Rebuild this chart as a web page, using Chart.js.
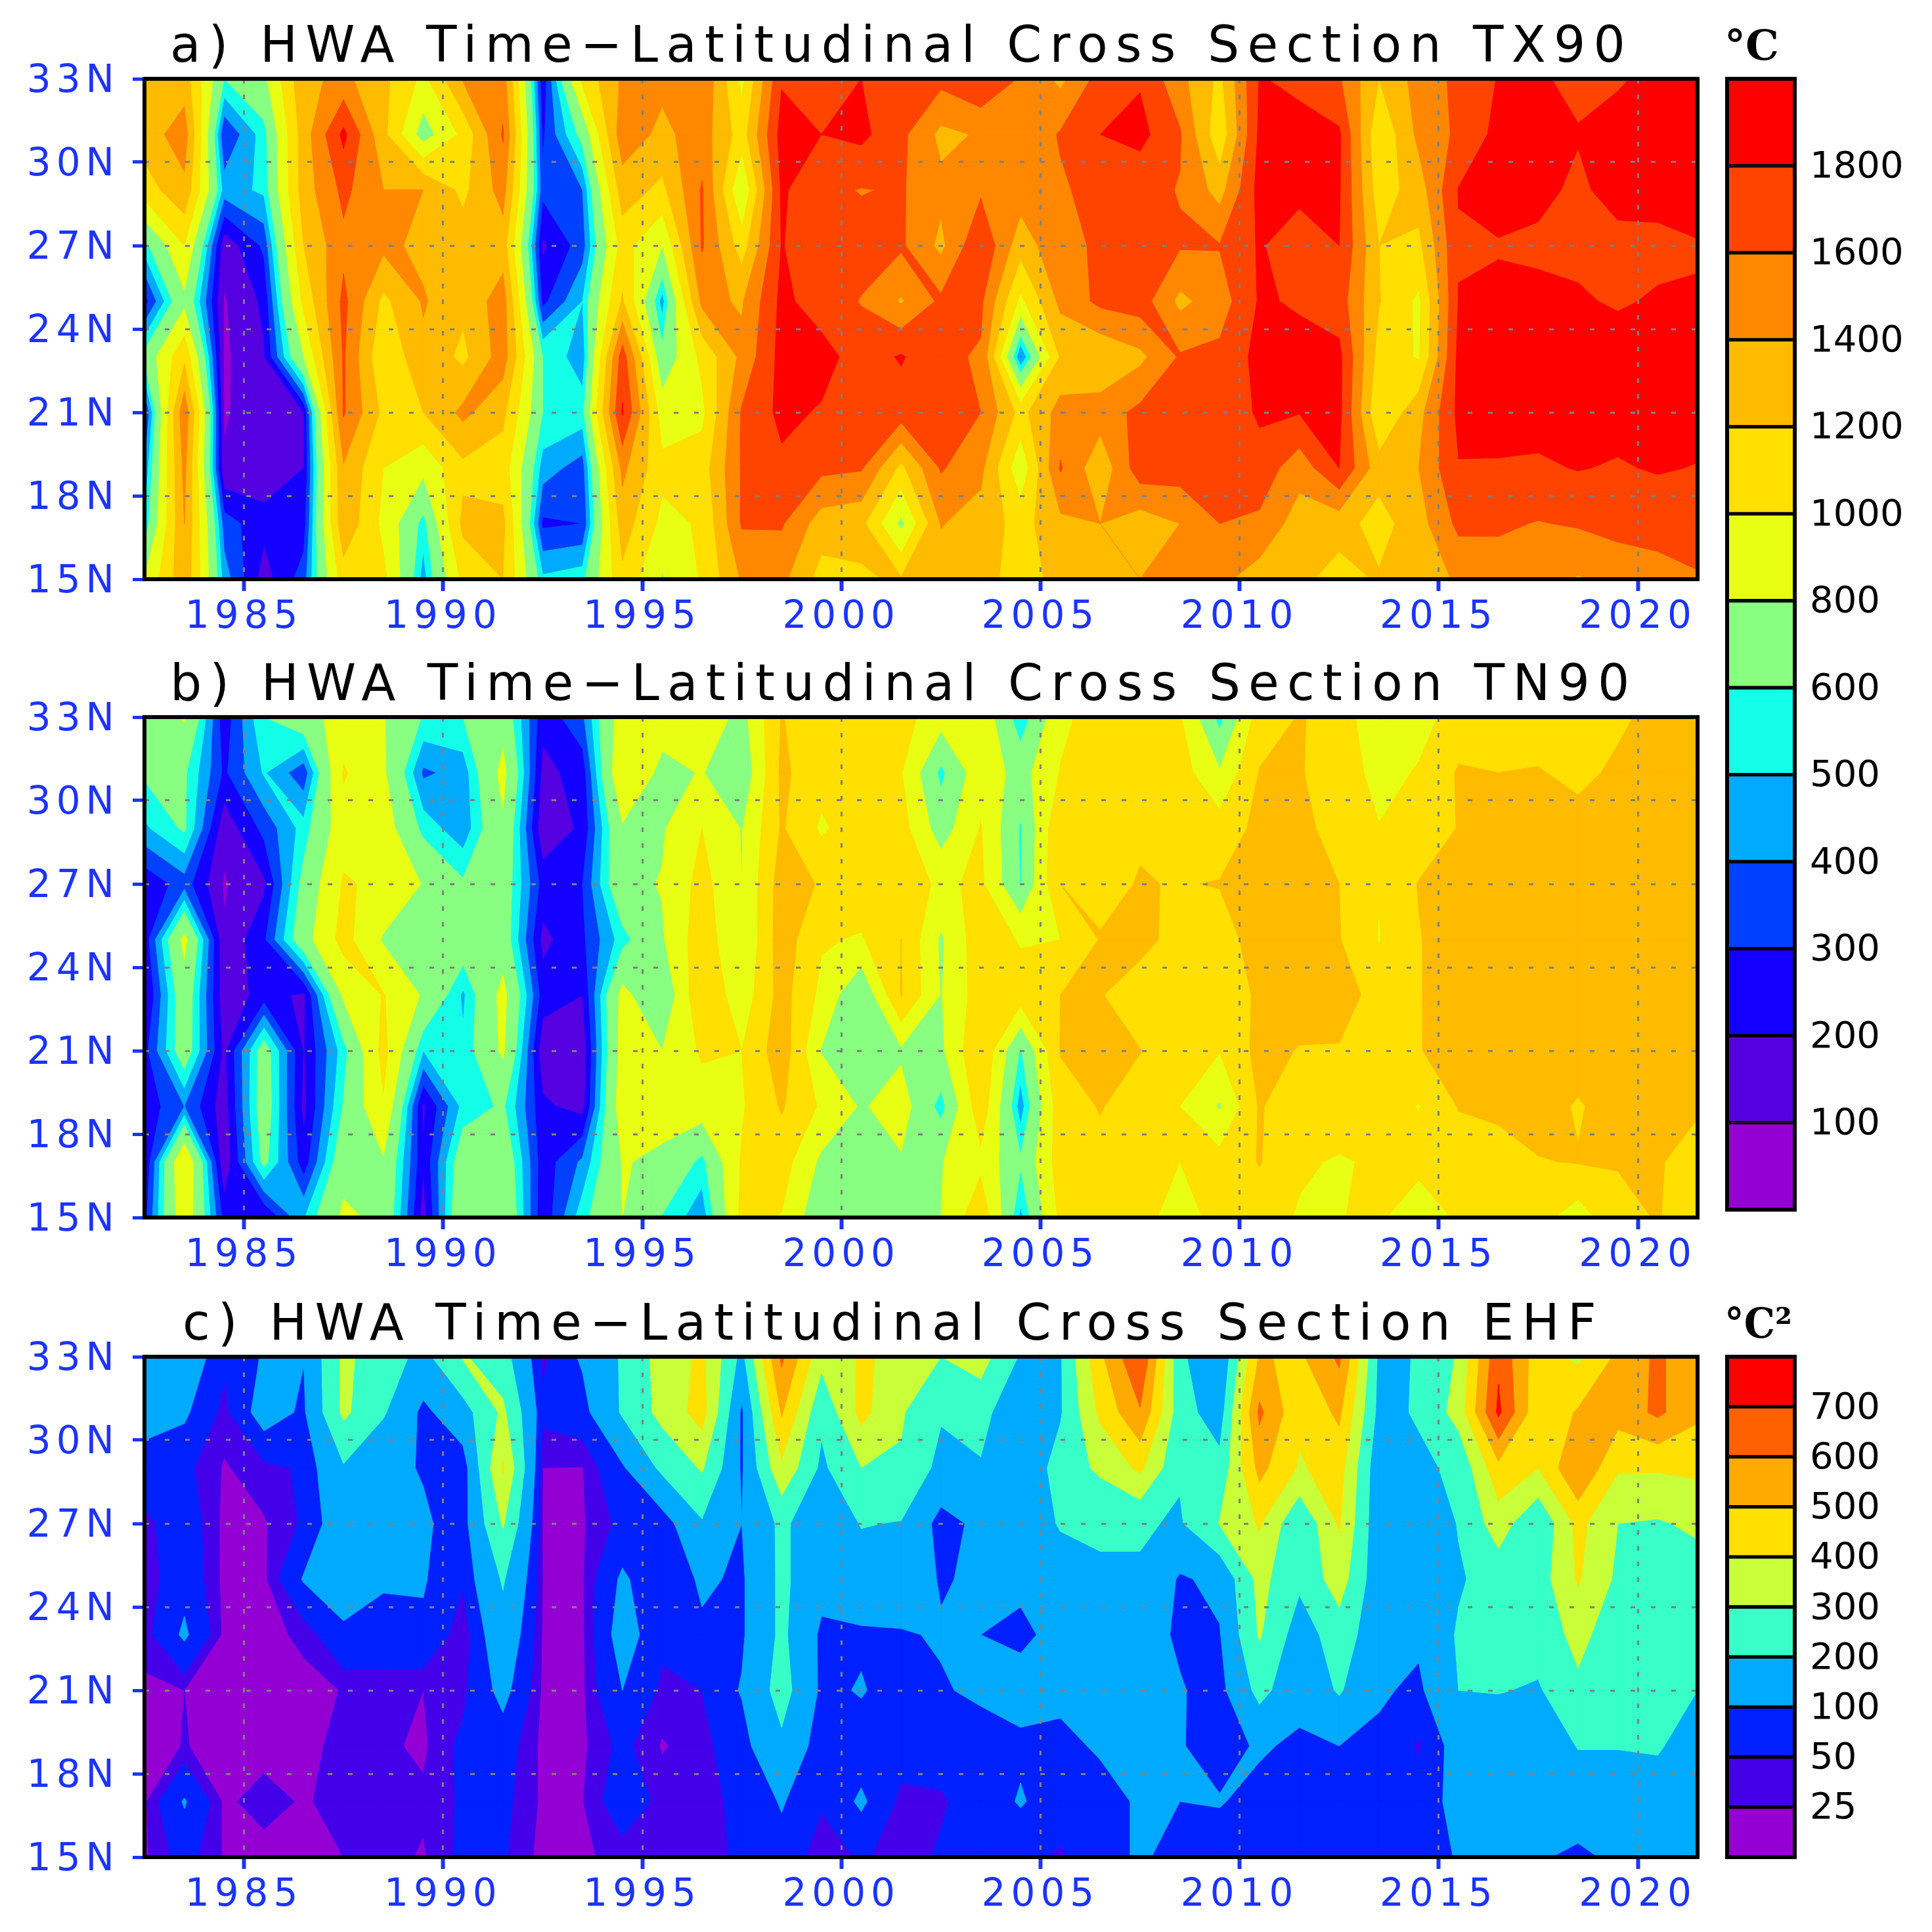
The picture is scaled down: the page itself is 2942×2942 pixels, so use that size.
<!DOCTYPE html>
<html>
<head>
<meta charset="utf-8">
<title>HWA cross sections</title>
<script src="https://cdn.jsdelivr.net/npm/chart.js@4"></script>
<style>
html, body { margin: 0; padding: 0; background: #fff; }
#page { position: relative; width: 2942px; height: 2942px; background: #fff; overflow: hidden; }
canvas { position: absolute; }
</style>
</head>
<body>
<div id="page"></div>
<script>
var years = [1982.5,1983.5,1984.5,1985.5,1986.5,1987.5,1988.5,1989.5,1990.5,1991.5,1992.5,1993.5,1994.5,1995.5,1996.5,1997.5,1998.5,1999.5,2000.5,2001.5,2002.5,2003.5,2004.5,2005.5,2006.5,2007.5,2008.5,2009.5,2010.5,2011.5,2012.5,2013.5,2014.5,2015.5,2016.5,2017.5,2018.5,2019.5,2020.5,2021.5];
var lats = [33,31,29,27,25,23,21,19,17,15];
var yearTicks = [1985,1990,1995,2000,2005,2010,2015,2020];
var latTicks = [15,18,21,24,27,30,33];
var latLabels = ['15N','18N','21N','24N','27N','30N','33N'];

var levelsT = [100,200,300,400,500,600,800,1000,1200,1400,1600,1800];
var levelsE = [25,50,100,200,300,400,500,600,700];
var colorsT = ['#9400d3','#5500e0','#1400ff','#0040ff','#00aaff','#14ffe8','#88ff80','#e8ff14','#ffe000','#ffbb00','#ff8800','#ff4400','#ff0000'];
var colorsE = ['#9400d3','#4400e8','#0020ff','#00aaff','#38ffc8','#c8ff38','#ffe000','#ffaa00','#ff6000','#ff0000'];

// one row per year, latitudes 33N down to 15N
var tx90 = [
[1250,1300,1100,550,250,650,250,400,500,800],
[1300,1500,1350,1000,750,1150,1550,1450,1400,1350],
[600,300,450,130,90,80,90,110,350,450],
[750,550,520,320,220,190,150,150,230,150],
[1350,1300,1300,1200,1050,800,200,200,250,350],
[1450,1850,1650,1550,1650,1620,1620,1380,1350,1100],
[1250,1250,1400,1450,1150,1020,1150,1000,950,1050],
[950,700,1400,1350,1420,1350,1200,850,550,450],
[1420,1050,1150,1300,1250,1150,1450,1150,1250,1050],
[1500,1620,1480,1300,1500,1500,1250,1100,1250,1200],
[220,280,330,180,270,600,600,450,280,520],
[1050,650,400,350,500,430,560,350,300,560],
[1430,1520,1300,1080,1220,1700,1820,1450,1300,1150],
[1450,1350,1150,800,450,650,900,1050,950,780],
[1580,1500,1620,1620,1450,1050,950,1100,1020,1020],
[950,1100,800,1100,1380,1450,1620,1620,1620,1420],
[1780,1880,1830,1810,1850,1870,1850,1760,1620,1450],
[1760,1800,1650,1650,1700,1880,1780,1650,1300,1120],
[1800,1850,1590,1680,1590,1700,1720,1620,1250,1180],
[1720,1650,1620,1630,1380,1820,1700,1150,750,1220],
[1660,1350,1450,1350,1640,1640,1610,1620,1410,1300],
[1790,1420,1570,1780,1640,1580,1600,1450,1320,1260],
[1580,1420,1500,1280,950,380,1130,850,1120,1130],
[1350,1620,1570,1560,1450,1220,1480,1620,1350,1250],
[1680,1800,1680,1620,1650,1220,1500,1250,1400,1350],
[1780,1860,1660,1620,1700,1350,1650,1720,1290,1400],
[1460,1620,1590,1620,1350,1620,1620,1700,1400,1420],
[1150,1050,1320,1610,1500,1650,1650,1700,1600,1450],
[1810,1840,1870,1820,1820,1860,1830,1720,1560,1300],
[1760,1860,1860,1680,1780,1860,1810,1480,1300,1250],
[1620,1830,1820,1800,1700,1850,1850,1800,1280,1120],
[1200,1020,1090,1200,1210,1120,1010,1280,1120,1220],
[1480,1450,1300,1150,960,980,1330,1400,1320,1280],
[1650,1640,1810,1780,1810,1850,1850,1790,1650,1430],
[1810,1860,1860,1790,1830,1880,1890,1780,1630,1500],
[1820,1870,1840,1770,1840,1880,1880,1770,1590,1530],
[1760,1810,1770,1760,1820,1880,1860,1810,1620,1380],
[1780,1870,1860,1750,1780,1890,1880,1780,1650,1500],
[1850,1880,1870,1750,1820,1900,1890,1820,1650,1550],
[1850,1880,1870,1790,1810,1900,1890,1790,1700,1580]
];

var tn90 = [
[650,620,480,220,230,170,260,230,190,260],
[820,620,620,350,850,720,700,400,1000,950],
[230,280,130,90,110,130,170,140,110,260],
[600,510,330,180,280,240,680,700,640,190],
[720,330,540,650,720,180,190,170,240,490],
[880,1020,920,1020,1070,830,550,610,720,840],
[810,830,900,960,780,1010,1060,980,780,750],
[590,380,560,790,720,780,500,180,210,150],
[600,440,430,620,700,480,520,530,710,780],
[720,860,770,700,700,860,830,620,740,800],
[230,170,120,260,170,250,130,220,240,220],
[380,240,220,300,280,200,130,160,420,560],
[900,990,780,750,550,860,880,920,810,800],
[880,750,780,810,780,620,800,860,770,590],
[950,810,1000,1070,1120,1180,1030,900,560,430],
[730,640,790,800,800,880,1000,980,1020,1050],
[1210,1240,1220,1300,1310,1280,1320,1220,1090,990],
[1060,1070,970,1180,1020,950,790,970,760,640],
[1080,1100,1120,1130,980,610,760,780,770,740],
[1080,1010,1080,1120,1200,1210,770,890,780,770],
[880,560,700,960,770,790,760,540,790,800],
[950,930,1010,1040,1130,1100,1190,1130,950,1150],
[500,720,580,590,980,1100,580,440,620,470],
[950,1010,1180,1200,1000,1200,1210,1120,1100,1050],
[1100,1120,1140,1150,1210,1210,1210,1210,1150,1100],
[1100,1150,1180,1210,1260,1100,1205,1120,1150,1080],
[1020,1090,1150,1190,1130,1120,1110,1000,1000,900],
[540,820,1090,1210,1100,1010,1010,780,1080,1080],
[1100,1210,1250,1300,1300,1250,1260,1220,1210,1100],
[1210,1210,1250,1260,1280,1290,1190,1050,1030,980],
[1150,1130,1130,1200,1210,1260,1190,1120,980,990],
[790,920,1010,1010,990,1150,1190,1100,1030,1050],
[920,1020,1060,1210,1190,1190,1190,990,1100,790],
[1090,1220,1210,1250,1300,1300,1290,1210,1100,1050],
[1180,1200,1280,1290,1300,1300,1290,1250,1100,1080],
[1120,1210,1290,1300,1310,1320,1300,1280,1190,1070],
[1100,1160,1260,1300,1310,1320,1300,1180,1210,900],
[1170,1230,1300,1310,1320,1310,1300,1290,1210,1150],
[1250,1300,1310,1310,1310,1310,1300,1270,1215,1210],
[1250,1300,1300,1310,1310,1310,1300,1220,1130,1100]
];

var ehf = [
[150,120,80,40,30,35,20,15,20,20],
[150,110,60,75,80,110,25,26,105,65],
[60,38,22,18,18,18,18,18,20,22],
[105,130,40,22,18,17,15,15,35,15],
[102,90,55,55,105,30,18,20,22,15],
[320,320,190,150,130,90,26,30,35,25],
[250,210,120,110,110,70,38,30,40,35],
[170,80,95,110,105,90,25,20,30,22],
[310,160,60,70,55,28,40,60,55,60],
[240,320,410,310,210,160,120,70,60,55],
[40,60,25,22,24,22,20,18,20,15],
[110,75,24,22,22,20,20,20,24,20],
[210,210,90,60,110,130,100,60,75,35],
[340,330,220,60,55,60,42,22,40,35],
[420,440,310,190,110,90,50,40,38,30],
[170,85,90,100,90,90,105,75,60,60],
[620,510,380,220,220,220,240,180,105,80],
[330,220,180,130,130,85,85,60,55,30],
[410,430,300,205,150,90,105,70,110,55],
[380,310,290,195,140,95,70,70,40,35],
[300,210,170,70,95,105,95,70,45,55],
[340,240,190,120,110,100,110,75,70,55],
[190,101,120,120,110,90,120,90,105,60],
[190,190,240,210,140,115,110,90,70,45],
[480,420,320,205,195,130,120,105,85,70],
[700,590,420,210,190,130,130,110,105,110],
[220,240,210,190,90,90,105,105,100,75],
[105,150,230,305,120,95,75,70,105,60],
[510,620,530,410,330,310,230,110,75,60],
[480,420,390,210,220,150,130,85,65,60],
[620,520,440,410,350,250,210,100,65,60],
[180,170,130,125,130,140,110,85,70,60],
[205,210,180,120,105,115,85,45,70,70],
[310,340,220,205,190,210,200,130,120,105],
[680,720,470,350,240,250,205,130,110,120],
[440,420,400,210,250,240,190,130,120,105],
[380,510,600,430,410,330,280,205,130,90],
[520,540,410,300,280,240,210,205,130,110],
[620,620,410,290,210,230,220,210,150,120],
[520,520,420,320,250,220,200,150,130,110]
];

var blue = '#1c34ff';
var numFont = '"DejaVu Sans"';
var page = document.getElementById('page');

function addCanvas(left, top, w, h) {
    var c = document.createElement('canvas');
    c.width = w;
    c.height = h;
    c.style.left = left + 'px';
    c.style.top = top + 'px';
    c.style.width = w + 'px';
    c.style.height = h + 'px';
    page.appendChild(c);
    return c;
}

// part of one grid cell where the field is >= level
function clipCell(pts, level) {
    var out = [];
    for (var i = 0; i < pts.length; i++) {
        var a = pts[i], b = pts[(i + 1) % pts.length];
        if (a.v >= level) out.push(a);
        if ((a.v >= level) !== (b.v >= level)) {
            var t = (level - a.v) / (b.v - a.v);
            out.push({ px: a.px + t * (b.px - a.px), py: a.py + t * (b.py - a.py), v: level });
        }
    }
    return out;
}

function contourPlugin(values, levels, colors) {
    return {
        id: 'contourFill',
        beforeDatasetsDraw: function (chart) {
            var ctx = chart.ctx, xs = chart.scales.x, ys = chart.scales.y, area = chart.chartArea;
            ctx.save();
            ctx.beginPath();
            ctx.rect(area.left, area.top, area.right - area.left, area.bottom - area.top);
            ctx.clip();
            ctx.fillStyle = colors[0];
            ctx.fillRect(area.left, area.top, area.right - area.left, area.bottom - area.top);
            ctx.lineWidth = 1;
            ctx.lineJoin = 'round';
            for (var k = 0; k < levels.length; k++) {
                ctx.beginPath();
                for (var i = 0; i < years.length - 1; i++) {
                    for (var j = 0; j < lats.length - 1; j++) {
                        var x0 = xs.getPixelForValue(years[i]), x1 = xs.getPixelForValue(years[i + 1]);
                        var y0 = ys.getPixelForValue(lats[j]), y1 = ys.getPixelForValue(lats[j + 1]);
                        var poly = clipCell([
                            { px: x0, py: y0, v: values[i][j] },
                            { px: x1, py: y0, v: values[i + 1][j] },
                            { px: x1, py: y1, v: values[i + 1][j + 1] },
                            { px: x0, py: y1, v: values[i][j + 1] }
                        ], levels[k]);
                        if (poly.length < 3) continue;
                        ctx.moveTo(poly[0].px, poly[0].py);
                        for (var p = 1; p < poly.length; p++) ctx.lineTo(poly[p].px, poly[p].py);
                        ctx.closePath();
                    }
                }
                ctx.fillStyle = colors[k + 1];
                ctx.strokeStyle = colors[k + 1];
                ctx.fill();
                ctx.stroke();
            }
            ctx.restore();
        }
    };
}

// title is drawn at z 0, ticks and grid at z 1, so spacing can differ between them
function textPlugin(titleShift, titleSpacing, tickSpacing) {
    return {
        id: 'textSpacing',
        beforeDraw: function (chart) {
            chart.ctx.save();
            chart.ctx.translate(titleShift, 0);
            chart.ctx.letterSpacing = titleSpacing + 'px';
        },
        beforeDatasetsDraw: function (chart) {
            chart.ctx.restore();
            chart.ctx.letterSpacing = tickSpacing + 'px';
        }
    };
}

function framePlugin(width) {
    return {
        id: 'frame',
        afterDraw: function (chart) {
            var a = chart.chartArea, ctx = chart.ctx;
            ctx.save();
            ctx.strokeStyle = '#000';
            ctx.lineWidth = width;
            ctx.strokeRect(a.left, a.top, a.right - a.left, a.bottom - a.top);
            ctx.restore();
        }
    };
}

function makePanel(top, titleText, titleShift, values, levels, colors) {
    var nodes = [];
    years.forEach(function (yr, i) {
        lats.forEach(function (lat, j) {
            nodes.push({ x: yr, y: lat, v: values[i][j] });
        });
    });
    return new Chart(addCanvas(0, top, 2620, 975).getContext('2d'), {
        type: 'scatter',
        data: { datasets: [{ data: nodes, pointRadius: 0, showLine: false }] },
        options: {
            responsive: false,
            animation: false,
            devicePixelRatio: 1,
            layout: { padding: { left: 0, right: 35, top: 0, bottom: 0 } },
            plugins: {
                legend: { display: false },
                tooltip: { enabled: false },
                title: {
                    display: true,
                    text: titleText,
                    align: 'start',
                    fullSize: false,
                    color: '#000',
                    font: { family: numFont, size: 76, weight: 'normal', lineHeight: 1 },
                    padding: { top: 36, bottom: 8 }
                }
            },
            scales: {
                x: {
                    type: 'linear',
                    min: years[0],
                    max: years[years.length - 1],
                    afterBuildTicks: function (scale) {
                        scale.ticks = yearTicks.map(function (v) { return { value: v }; });
                    },
                    afterFit: function (scale) { scale.height = 93; },
                    border: { display: false, dash: [7, 17] },
                    grid: { z: 1, color: '#808080', lineWidth: 3, tickColor: blue, tickWidth: 6, tickLength: 18 },
                    ticks: {
                        z: 1, color: blue, padding: 6, maxRotation: 0, autoSkip: false,
                        font: { family: numFont, size: 58 },
                        callback: function (v) { return String(v); }
                    }
                },
                y: {
                    type: 'linear',
                    min: 15,
                    max: 33,
                    afterBuildTicks: function (scale) {
                        scale.ticks = latTicks.map(function (v) { return { value: v }; });
                    },
                    afterFit: function (scale) { scale.width = 220; },
                    border: { display: false, dash: [7, 24] },
                    grid: { z: 1, color: '#808080', lineWidth: 3, tickColor: blue, tickWidth: 5, tickLength: 18 },
                    ticks: {
                        z: 1, color: blue, padding: 20, autoSkip: false, labelOffset: 5,
                        font: { family: numFont, size: 58 },
                        callback: function (v) { return latLabels[latTicks.indexOf(v)]; }
                    }
                }
            }
        },
        plugins: [textPlugin(titleShift, 12.2, 8), contourPlugin(values, levels, colors), framePlugin(6)]
    });
}

function makeBar(top, height, plotTop, plotBottom, unit, levels, colors) {
    var sets = colors.map(function (col) {
        return { data: [1], backgroundColor: col, borderColor: '#000', borderWidth: 3, borderSkipped: false, barPercentage: 1, categoryPercentage: 1 };
    });
    return new Chart(addCanvas(2600, top, 342, height).getContext('2d'), {
        type: 'bar',
        data: { labels: [''], datasets: sets },
        options: {
            responsive: false,
            animation: false,
            devicePixelRatio: 1,
            layout: { padding: { left: 30, right: 0, top: 0, bottom: height - (plotBottom - top) } },
            plugins: {
                legend: { display: false },
                tooltip: { enabled: false },
                title: {
                    display: true,
                    text: unit,
                    align: 'start',
                    fullSize: false,
                    color: '#000',
                    font: { family: '"DejaVu Serif"', size: 64, weight: 'bold', lineHeight: 1 },
                    padding: { top: plotTop - top - 78, bottom: 14 }
                }
            },
            scales: {
                x: { display: false, stacked: true },
                y: {
                    stacked: true,
                    position: 'right',
                    min: 0,
                    max: colors.length,
                    afterBuildTicks: function (scale) {
                        scale.ticks = levels.map(function (v, i) { return { value: i + 1 }; });
                    },
                    afterFit: function (scale) {
                        scale.width = 209;
                        // labels sit well inside the bar, no room needed above or below it
                        scale.paddingTop = 0;
                        scale.paddingBottom = 0;
                    },
                    border: { display: false },
                    grid: { display: false, drawTicks: false },
                    ticks: {
                        color: '#000', padding: 27, autoSkip: false, labelOffset: 3,
                        font: { family: numFont, size: 56 },
                        callback: function (v) { return String(levels[v - 1]); }
                    }
                }
            }
        },
        plugins: [textPlugin(-4, 0, 7), framePlugin(6)]
    });
}

makePanel(0, 'a) HWA Time\u2212Latitudinal Cross Section TX90', 39, tx90, levelsT, colorsT);
makePanel(972, 'b) HWA Time\u2212Latitudinal Cross Section TN90', 39, tn90, levelsT, colorsT);
makePanel(1946, 'c) HWA Time\u2212Latitudinal Cross Section EHF', 58, ehf, levelsE, colorsE);
makeBar(0, 1860, 120, 1842, '\u00b0C', levelsT, colorsT);
makeBar(1950, 900, 2066, 2828, '\u00b0C\u00b2', levelsE, colorsE);
</script>
</body>
</html>
